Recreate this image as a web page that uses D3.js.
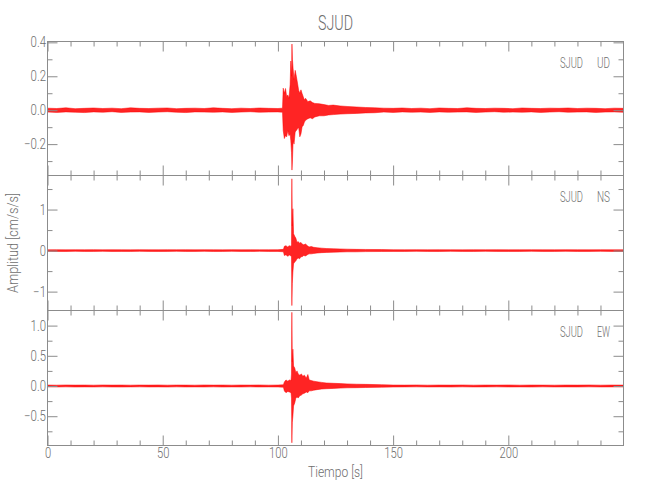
<!DOCTYPE html>
<html><head><meta charset="utf-8">
<script src="https://cdn.jsdelivr.net/npm/d3@7"></script>
<style>
body{margin:0;background:#fff;}
svg{display:block;}
text{font-family:Roboto,"Open Sans","DejaVu Sans",sans-serif;font-weight:300;}
</style></head><body>
<svg id="c" width="650" height="500"></svg>
<script>
// ---------------- data ----------------
const chartTitle = "SJUD";
const station = "SJUD";
const components = ["UD", "NS", "EW"];
const xLabel = "Tiempo [s]";
const yLabel = "Amplitud [cm/s/s]";
const xDomain = [0, 249.99];
const xMajorTicks = [0, 50, 100, 150, 200];
const xMinorTicks = [10,20,30,40,60,70,80,90,110,120,130,140,160,170,180,190,210,220,230,240];

const udDomain = [-0.385, 0.405];
const nsDomain = [-1.46, 1.83];
const ewDomain = [-0.985, 1.25];
const udMajor = [-0.2, 0, 0.2, 0.4], udMinor = [-0.3, -0.1, 0.1, 0.3];
const nsMajor = [-1, 0, 1],          nsMinor = [-0.5, 0.5, 1.5];
const ewMajor = [-0.5, 0, 0.5, 1.0], ewMinor = [-0.75, -0.25, 0.25, 0.75];

// envelope of each trace: [time s, max, min]
const udTrace = [
 [0,.012,-.011],[4,.010,-.013],[8,.014,-.010],[12,.009,-.012],[16,.011,-.014],[20,.013,-.010],[24,.010,-.012],
 [28,.012,-.009],[32,.009,-.013],[36,.014,-.011],[40,.011,-.010],[44,.010,-.013],[48,.012,-.011],[52,.013,-.009],
 [56,.009,-.012],[60,.011,-.014],[64,.012,-.010],[68,.010,-.011],[72,.014,-.012],[76,.011,-.010],[80,.009,-.013],
 [84,.012,-.011],[88,.010,-.009],[92,.013,-.012],[96,.011,-.011],[100,.010,-.010],[102.0,.012,-.012],
 [102.3,.13,-.12],[102.8,.10,-.167],[103.3,.128,-.15],[103.8,.08,-.157],[104.3,.09,-.12],[104.8,.07,-.15],
 [105.3,.15,-.14],[105.6,.29,-.18],[105.9,.20,-.25],[106.1,.39,-.353],[106.3,.30,-.30],[106.6,.245,-.18],
 [107.0,.18,-.20],[107.5,.235,-.128],[108.0,.20,-.12],[108.5,.16,-.11],[109.0,.118,-.10],[109.5,.10,-.157],
 [110.0,.12,-.14],[110.5,.098,-.098],[111.0,.08,-.09],[111.5,.06,-.07],[112,.07,-.06],[113,.05,-.05],
 [114,.055,-.045],[115,.045,-.05],[116,.04,-.04],[118,.038,-.033],[120,.033,-.033],[122,.028,-.028],
 [124,.03,-.026],[127,.025,-.023],[130,.022,-.021],[134,.019,-.019],[138,.016,-.016],[142,.014,-.015],
 [146,.012,-.011],[150,.011,-.013],[154,.013,-.010],[158,.010,-.012],[162,.012,-.011],[166,.009,-.013],
 [170,.013,-.010],[174,.011,-.012],[178,.010,-.011],[182,.014,-.010],[186,.011,-.013],[190,.010,-.011],
 [194,.012,-.009],[198,.011,-.012],[202,.009,-.011],[206,.013,-.012],[210,.011,-.010],[214,.010,-.013],
 [218,.012,-.011],[222,.011,-.009],[226,.013,-.012],[230,.010,-.011],[234,.012,-.010],[238,.011,-.013],
 [242,.009,-.011],[246,.012,-.010],[249.9,.011,-.012]
];
const nsTrace = [
 [0,.02,-.019],[4,.022,-.02],[8,.019,-.022],[12,.021,-.018],[16,.02,-.021],[20,.023,-.02],[24,.019,-.019],
 [28,.021,-.022],[32,.02,-.02],[36,.018,-.021],[40,.022,-.019],[44,.02,-.02],[48,.019,-.022],[52,.021,-.02],
 [56,.02,-.018],[60,.022,-.021],[64,.019,-.02],[68,.021,-.019],[72,.02,-.022],[76,.018,-.02],[80,.022,-.019],
 [84,.02,-.021],[88,.021,-.02],[92,.019,-.019],[96,.02,-.021],[100,.022,-.02],[102.4,.03,-.03],
 [102.8,.105,-.12],[103.5,.12,-.10],[104.2,.09,-.14],[105.0,.12,-.11],[105.7,.10,-.13],[105.9,.15,-.15],
 [106.05,1.75,-1.34],[106.25,.6,-.8],[106.5,1.02,-.53],[106.8,.41,-.32],[107.3,.35,-.28],[107.8,.3,-.25],
 [108.3,.2,-.2],[108.8,.22,-.18],[109.4,.18,-.2],[110.0,.2,-.15],[110.5,.16,-.15],[111.2,.14,-.12],
 [112.0,.16,-.13],[112.8,.12,-.1],[113.5,.09,-.08],[114.5,.1,-.08],[115.5,.08,-.07],[117,.07,-.06],
 [119,.06,-.05],[121,.05,-.045],[124,.045,-.04],[127,.04,-.035],[130,.035,-.03],[134,.03,-.03],
 [138,.028,-.025],[145,.025,-.022],[150,.021,-.02],[155,.02,-.021],[160,.022,-.019],[165,.019,-.02],
 [170,.021,-.022],[175,.02,-.019],[180,.018,-.02],[185,.021,-.021],[190,.02,-.019],[195,.022,-.02],
 [200,.019,-.021],[205,.02,-.02],[210,.021,-.018],[215,.02,-.021],[220,.019,-.02],[225,.022,-.019],
 [230,.02,-.021],[235,.019,-.02],[240,.021,-.019],[245,.02,-.021],[249.9,.02,-.02]
];
const ewTrace = [
 [0,.016,-.015],[4,.014,-.016],[8,.017,-.014],[12,.015,-.017],[16,.016,-.015],[20,.014,-.016],[24,.017,-.014],
 [28,.015,-.016],[32,.016,-.017],[36,.014,-.015],[40,.016,-.014],[44,.015,-.016],[48,.017,-.015],[52,.014,-.017],
 [56,.016,-.014],[60,.015,-.016],[64,.014,-.015],[68,.017,-.016],[72,.015,-.014],[76,.016,-.017],[80,.014,-.015],
 [84,.016,-.016],[88,.015,-.014],[92,.017,-.016],[96,.014,-.015],[100,.016,-.016],[102.4,.02,-.02],
 [102.8,.067,-.083],[103.5,.1,-.11],[104.3,.08,-.09],[105.0,.1,-.1],[105.7,.09,-.11],[105.9,.2,-.2],
 [106.05,1.22,-.94],[106.25,.4,-.6],[106.5,.61,-.5],[106.8,.33,-.33],[107.3,.3,-.28],[107.8,.22,-.2],
 [108.3,.25,-.18],[108.8,.2,-.2],[109.5,.18,-.16],[110.2,.2,-.15],[110.8,.16,-.13],[111.5,.18,-.12],
 [112.3,.13,-.1],[113.0,.19,-.11],[113.6,.1,-.08],[114.5,.09,-.08],[115.5,.08,-.07],[117,.07,-.06],
 [119,.06,-.05],[121,.05,-.045],[124,.045,-.04],[127,.04,-.035],[130,.035,-.03],[134,.03,-.028],
 [138,.027,-.025],[145,.022,-.02],[150,.016,-.017],[155,.015,-.015],[160,.017,-.014],[165,.014,-.016],
 [170,.016,-.015],[175,.015,-.017],[180,.017,-.014],[185,.014,-.016],[190,.016,-.015],[195,.015,-.014],
 [200,.017,-.016],[205,.014,-.015],[210,.016,-.017],[215,.015,-.014],[220,.014,-.016],[225,.016,-.015],
 [230,.015,-.016],[235,.017,-.014],[240,.014,-.016],[245,.016,-.015],[249.9,.015,-.016]
];

// ---------------- layout ----------------
const svg = d3.select("#c");
const AX = "#8c8c8c", TX = "#6e6e6e", RED = "#ff0000";
const left = 47.5, right = 623.5;
const bounds = [41.5, 175.5, 310.5, 445.5];
const x = d3.scaleLinear().domain(xDomain).range([left, right]);

const panels = [
  {comp: components[0], dom: udDomain, major: udMajor, minor: udMinor, data: udTrace, fmt: d3.format(".1f")},
  {comp: components[1], dom: nsDomain, major: nsMajor, minor: nsMinor, data: nsTrace, fmt: d3.format("d")},
  {comp: components[2], dom: ewDomain, major: ewMajor, minor: ewMinor, data: ewTrace, fmt: d3.format(".1f")}
];
const minus = s => s.replace("-", "\u2212");
// narrow "stroke font" look: fixed advance per character
const charW = c => (c === "." ? 3 : c === "\u2212" ? 6.7 : 6.2);
const lenOf = s => Array.from(s).reduce((a, c) => a + charW(c), 0);

function styleAxis(g) {
  g.select(".domain").remove();
  g.selectAll("line").attr("stroke", AX).attr("stroke-width", 1);
  g.selectAll("text").attr("fill", TX).attr("font-size", 14)
    .attr("font-family", null)
    .each(function () {
      const s = this.textContent;
      if (s) d3.select(this).attr("textLength", lenOf(s)).attr("lengthAdjust", "spacingAndGlyphs");
    });
}

panels.forEach((p, i) => {
  const top = bounds[i], bot = bounds[i + 1];
  const y = d3.scaleLinear().domain(p.dom).range([bot, top]);

  // waveform envelope
  const area = d3.area().x(d => x(d[0])).y0(d => y(d[2])).y1(d => y(d[1]));
  svg.append("path").datum(p.data).attr("d", area)
    .attr("fill", "#ff2424").attr("stroke", RED).attr("stroke-width", 0.5).attr("stroke-linejoin", "round");

  const last = i === panels.length - 1;
  svg.append("g").attr("transform", `translate(0,${bot})`)
    .call(d3.axisBottom(x).tickValues(xMinorTicks).tickSize(-5).tickFormat("")).call(styleAxis);
  svg.append("g").attr("transform", `translate(0,${bot})`)
    .call(d3.axisBottom(x).tickValues(xMajorTicks).tickSize(-10).tickPadding(3)
      .tickFormat(last ? d3.format("d") : "")).call(styleAxis);
  svg.append("g").attr("transform", `translate(0,${top})`)
    .call(d3.axisTop(x).tickValues(xMinorTicks).tickSize(-5).tickFormat("")).call(styleAxis);
  svg.append("g").attr("transform", `translate(0,${top})`)
    .call(d3.axisTop(x).tickValues(xMajorTicks).tickSize(-10).tickFormat("")).call(styleAxis);

  svg.append("g").attr("transform", `translate(${left},0)`)
    .call(d3.axisLeft(y).tickValues(p.minor).tickSize(-5).tickFormat("")).call(styleAxis);
  svg.append("g").attr("transform", `translate(${left},0)`)
    .call(d3.axisLeft(y).tickValues(p.major).tickSize(-10).tickPadding(1.5)
      .tickFormat(v => minus(p.fmt(v)))).call(styleAxis);
  svg.append("g").attr("transform", `translate(${right},0)`)
    .call(d3.axisRight(y).tickValues(p.minor).tickSize(-5).tickFormat("")).call(styleAxis);
  svg.append("g").attr("transform", `translate(${right},0)`)
    .call(d3.axisRight(y).tickValues(p.major).tickSize(-10).tickFormat("")).call(styleAxis);

  svg.append("rect").attr("x", left).attr("y", top).attr("width", right - left).attr("height", bot - top)
    .attr("fill", "none").attr("stroke", AX).attr("stroke-width", 1);

  svg.append("text").attr("x", 560).attr("y", top + 26).attr("fill", TX).attr("font-size", 14)
    .attr("textLength", 23).attr("lengthAdjust", "spacingAndGlyphs").text(station);
  svg.append("text").attr("x", 597).attr("y", top + 26).attr("fill", TX).attr("font-size", 14)
    .attr("textLength", 13).attr("lengthAdjust", "spacingAndGlyphs").text(p.comp);
});

svg.append("text").attr("x", (left + right) / 2).attr("y", 30).attr("text-anchor", "middle")
  .attr("fill", TX).attr("font-size", 21).attr("textLength", 35).attr("lengthAdjust", "spacingAndGlyphs")
  .text(chartTitle);
svg.append("text").attr("x", (left + right) / 2).attr("y", 476.5).attr("text-anchor", "middle")
  .attr("fill", TX).attr("font-size", 14).attr("textLength", 55).attr("lengthAdjust", "spacingAndGlyphs")
  .text(xLabel);
svg.append("text").attr("transform", `translate(17.5,${(bounds[1] + bounds[2]) / 2}) rotate(-90)`)
  .attr("text-anchor", "middle").attr("fill", TX).attr("font-size", 14)
  .attr("textLength", 100).attr("lengthAdjust", "spacingAndGlyphs").text(yLabel);
</script>
</body></html>
